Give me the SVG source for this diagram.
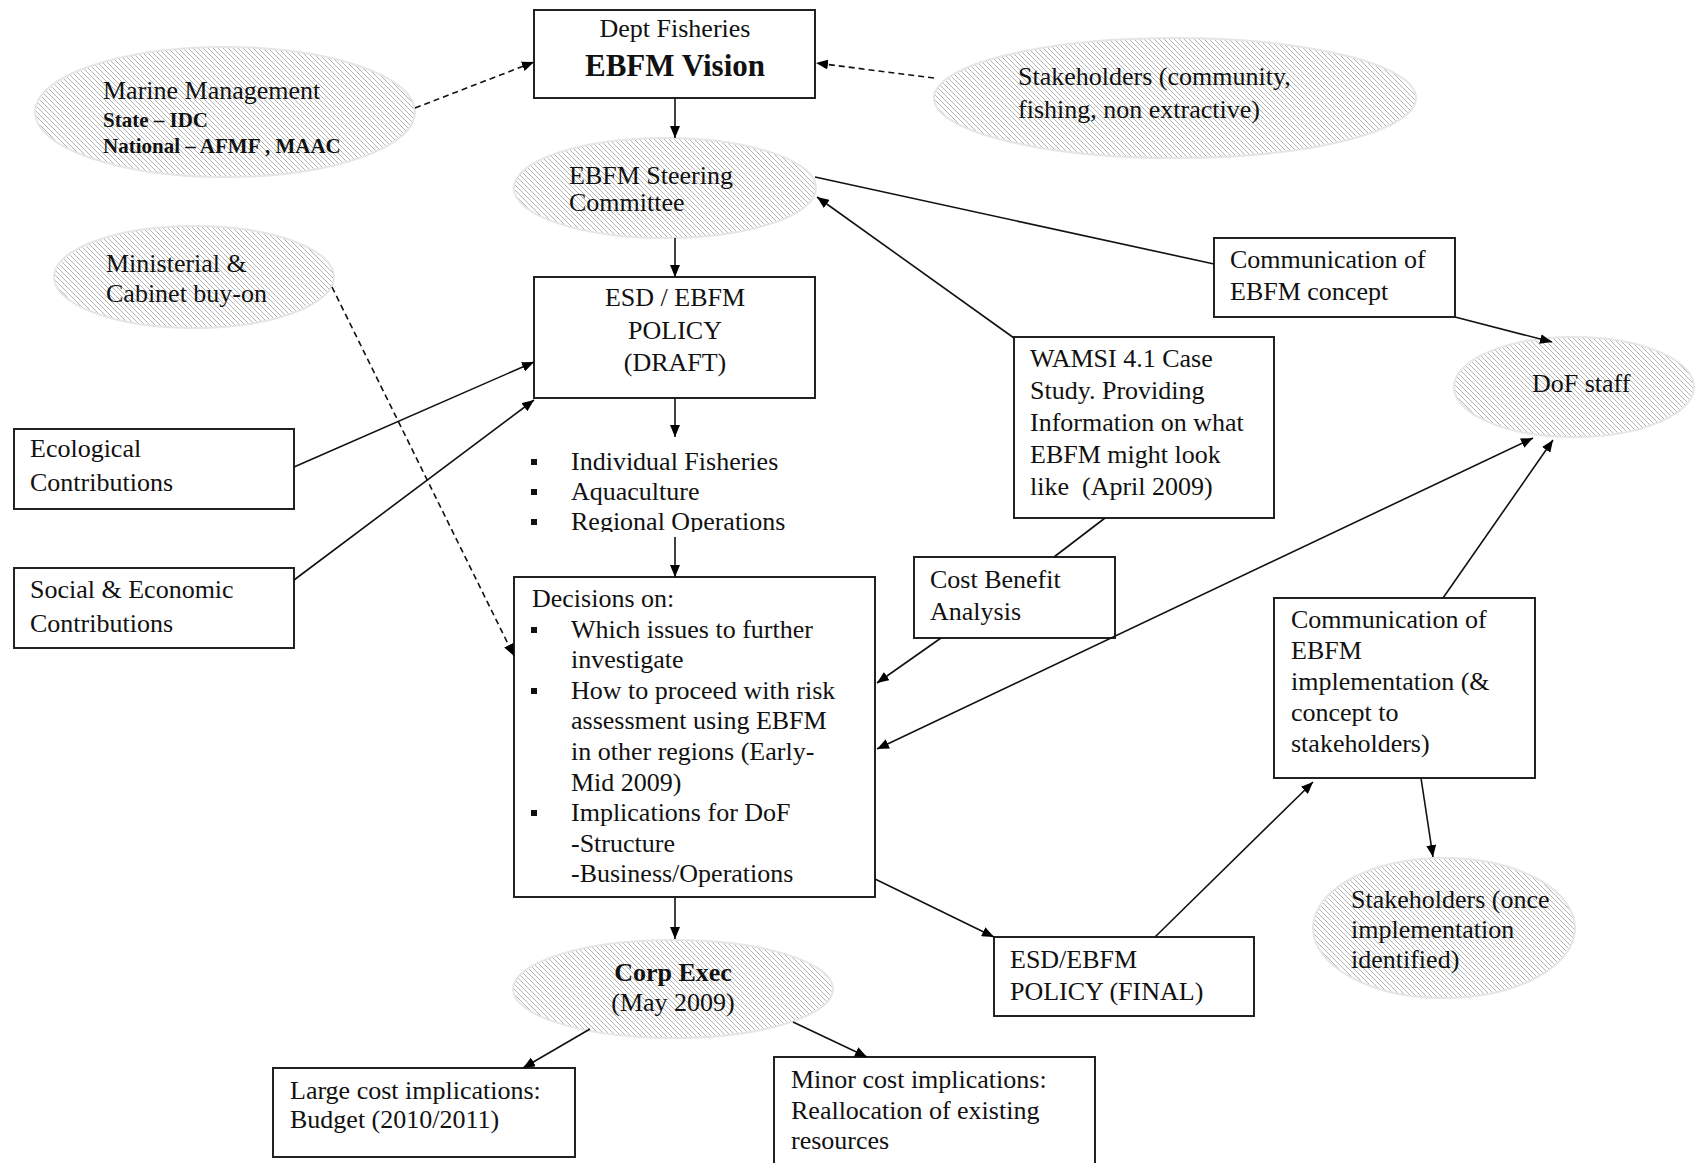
<svg xmlns="http://www.w3.org/2000/svg" width="1701" height="1163" viewBox="0 0 1701 1163">
<style>
text{font-family:"Liberation Serif","Times New Roman",serif;font-size:26px;fill:#111}
.b{font-weight:bold}
.sm{font-size:21px;font-weight:bold}
.c{text-anchor:middle}
.box{fill:#fff;stroke:#222;stroke-width:2}
.ell{fill:url(#hatch);stroke:#e6e6e6;stroke-width:2}
.ln{fill:none;stroke:#111;stroke-width:1.6}
.ar{marker-end:url(#ah)}
.dash{stroke-dasharray:6 4}
.bul{fill:#111}
</style>
<defs>
<pattern id="hatch" width="5" height="5" patternUnits="userSpaceOnUse">
<rect width="5" height="5" fill="#fff"/>
<path d="M-1,-1 L6,6 M-1,4 L1,6 M4,-1 L6,1" stroke="#b2b2b2" stroke-width="1"/>
</pattern>
<marker id="ah" viewBox="0 0 12 10" refX="12" refY="5" markerWidth="12" markerHeight="10" markerUnits="userSpaceOnUse" orient="auto-start-reverse">
<path d="M0,0 L12,5 L0,10 z" fill="#000"/>
</marker>
<clipPath id="bclip"><rect x="500" y="440" width="400" height="92"/></clipPath>
</defs>
<rect width="1701" height="1163" fill="#fff"/>

<g id="dept-fisheries">
<rect class="box" x="534" y="10" width="281" height="88"/>
<text class="c" x="675" y="37">Dept Fisheries</text>
<text class="c b" x="675" y="76" style="font-size:31px">EBFM Vision</text>
</g>

<g id="marine-management">
<ellipse class="ell" cx="225" cy="112" rx="190" ry="65"/>
<text x="103" y="99">Marine Management</text>
<text class="sm" x="103" y="127">State – IDC</text>
<text class="sm" x="103" y="153">National – AFMF , MAAC</text>
</g>

<g id="stakeholders">
<ellipse class="ell" cx="1175" cy="98" rx="241" ry="60"/>
<text x="1018" y="85">Stakeholders (community,</text>
<text x="1018" y="118">fishing, non extractive)</text>
</g>

<g id="steering-committee">
<ellipse class="ell" cx="665" cy="188" rx="151" ry="50"/>
<text x="569" y="184">EBFM Steering</text>
<text x="569" y="211">Committee</text>
</g>

<g id="ministerial">
<ellipse class="ell" cx="194" cy="277" rx="140" ry="51"/>
<text x="106" y="272">Ministerial &amp;</text>
<text x="106" y="302">Cabinet buy-on</text>
</g>

<g id="policy-draft">
<rect class="box" x="534" y="277" width="281" height="121"/>
<text class="c" x="675" y="306">ESD / EBFM</text>
<text class="c" x="675" y="339">POLICY</text>
<text class="c" x="675" y="371">(DRAFT)</text>
</g>

<g id="communication-concept">
<rect class="box" x="1214" y="238" width="241" height="79"/>
<text x="1230" y="268">Communication of</text>
<text x="1230" y="300">EBFM concept</text>
</g>

<g id="wamsi">
<rect class="box" x="1014" y="337" width="260" height="181"/>
<text x="1030" y="367">WAMSI 4.1 Case</text>
<text x="1030" y="399">Study. Providing</text>
<text x="1030" y="431">Information on what</text>
<text x="1030" y="463">EBFM might look</text>
<text x="1030" y="495" xml:space="preserve">like  (April 2009)</text>
</g>

<g id="dof-staff">
<ellipse class="ell" cx="1574" cy="387" rx="120" ry="50"/>
<text x="1532" y="392">DoF staff</text>
</g>

<g id="ecological">
<rect class="box" x="14" y="429" width="280" height="80"/>
<text x="30" y="457">Ecological</text>
<text x="30" y="491">Contributions</text>
</g>

<g id="social-economic">
<rect class="box" x="14" y="568" width="280" height="80"/>
<text x="30" y="598">Social &amp; Economic</text>
<text x="30" y="632">Contributions</text>
</g>

<g id="policy-areas" clip-path="url(#bclip)">
<rect class="bul" x="531" y="459" width="6" height="6"/>
<text x="571" y="470">Individual Fisheries</text>
<rect class="bul" x="531" y="489" width="6" height="6"/>
<text x="571" y="500">Aquaculture</text>
<rect class="bul" x="531" y="519" width="6" height="6"/>
<text x="571" y="530">Regional Operations</text>
</g>

<g id="cost-benefit">
<rect class="box" x="914" y="557" width="201" height="81"/>
<text x="930" y="588">Cost Benefit</text>
<text x="930" y="620">Analysis</text>
</g>

<g id="decisions">
<rect class="box" x="514" y="577" width="361" height="320"/>
<text x="532" y="607">Decisions on:</text>
<rect class="bul" x="531" y="627" width="6" height="6"/>
<text x="571" y="638">Which issues to further</text>
<text x="571" y="668">investigate</text>
<rect class="bul" x="531" y="688" width="6" height="6"/>
<text x="571" y="699">How to proceed with risk</text>
<text x="571" y="729">assessment using EBFM</text>
<text x="571" y="760">in other regions (Early-</text>
<text x="571" y="791">Mid 2009)</text>
<rect class="bul" x="531" y="810" width="6" height="6"/>
<text x="571" y="821">Implications for DoF</text>
<text x="571" y="852">-Structure</text>
<text x="571" y="882">-Business/Operations</text>
</g>

<g id="communication-implementation">
<rect class="box" x="1274" y="598" width="261" height="180"/>
<text x="1291" y="628">Communication of</text>
<text x="1291" y="659">EBFM</text>
<text x="1291" y="690">implementation (&amp;</text>
<text x="1291" y="721">concept to</text>
<text x="1291" y="752">stakeholders)</text>
</g>

<g id="stakeholders-once">
<ellipse class="ell" cx="1444" cy="928" rx="131" ry="70"/>
<text x="1351" y="908">Stakeholders (once</text>
<text x="1351" y="938">implementation</text>
<text x="1351" y="968">identified)</text>
</g>

<g id="policy-final">
<rect class="box" x="994" y="937" width="260" height="79"/>
<text x="1010" y="968">ESD/EBFM</text>
<text x="1010" y="1000">POLICY (FINAL)</text>
</g>

<g id="corp-exec">
<ellipse class="ell" cx="673" cy="989" rx="160" ry="49"/>
<text class="c b" x="673" y="981">Corp Exec</text>
<text class="c" x="673" y="1011">(May 2009)</text>
</g>

<g id="large-cost">
<rect class="box" x="273" y="1068" width="302" height="89"/>
<text x="290" y="1099">Large cost implications:</text>
<text x="290" y="1128">Budget (2010/2011)</text>
</g>

<g id="minor-cost">
<rect class="box" x="774" y="1057" width="321" height="120"/>
<text x="791" y="1088">Minor cost implications:</text>
<text x="791" y="1119">Reallocation of existing</text>
<text x="791" y="1149">resources</text>
</g>

<g id="connectors">
<line class="ln ar" x1="675" y1="98" x2="675" y2="138"/>
<line class="ln ar" x1="675" y1="238" x2="675" y2="277"/>
<line class="ln ar" x1="675" y1="398" x2="675" y2="437"/>
<line class="ln ar" x1="675" y1="537" x2="675" y2="577"/>
<line class="ln ar" x1="675" y1="897" x2="675" y2="939"/>
<line class="ln ar" x1="590" y1="1029" x2="523" y2="1068"/>
<line class="ln ar" x1="793" y1="1022" x2="867" y2="1057"/>
<line class="ln ar dash" x1="415" y1="108" x2="534" y2="62"/>
<line class="ln ar dash" x1="934" y1="78" x2="816" y2="63"/>
<line class="ln ar dash" x1="332" y1="287" x2="514" y2="656"/>
<line class="ln ar" x1="294" y1="467" x2="534" y2="362"/>
<line class="ln ar" x1="294" y1="580" x2="534" y2="400"/>
<line class="ln" x1="815" y1="177" x2="1214" y2="264"/>
<line class="ln ar" x1="1455" y1="317" x2="1552" y2="342"/>
<line class="ln ar" x1="1014" y1="338" x2="817" y2="197"/>
<line class="ln" x1="1105" y1="518" x2="1054" y2="557"/>
<line class="ln ar" x1="941" y1="638" x2="877" y2="683"/>
<line class="ln ar" x1="1533" y1="438" x2="877" y2="749" marker-start="url(#ah)"/>
<line class="ln ar" x1="1443" y1="598" x2="1553" y2="440"/>
<line class="ln ar" x1="875" y1="879" x2="994" y2="937"/>
<line class="ln ar" x1="1155" y1="937" x2="1313" y2="782"/>
<line class="ln ar" x1="1421" y1="778" x2="1433" y2="857"/>
</g>
</svg>
